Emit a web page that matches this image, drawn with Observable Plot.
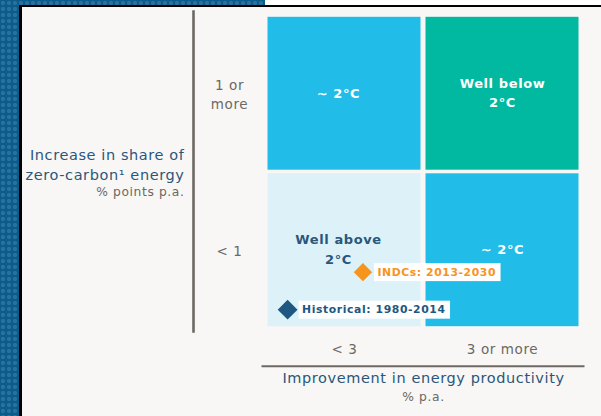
<!DOCTYPE html>
<html><head><meta charset="utf-8">
<script src="https://cdn.jsdelivr.net/npm/d3@7"></script>
<script src="https://cdn.jsdelivr.net/npm/@observablehq/plot@0.6"></script>
<style>
html,body{margin:0;padding:0;background:#fff;}
#wrap{position:relative;width:601px;height:416px;overflow:hidden;background:#f8f7f5}
#chart{position:absolute;left:0;top:0}
.deco{position:absolute;pointer-events:none}
.blue{background-color:#0b5b8b;background-image:radial-gradient(circle,rgba(120,170,205,0.28) 1.8px,transparent 2.4px);background-size:6px 6px}
</style></head><body>
<div id="wrap"><div id="chart"></div>
<div class="deco blue" style="left:0;top:0;width:20px;height:416px"></div>
<div class="deco blue" style="left:0;top:0;width:265px;height:5px"></div>
<div class="deco" style="left:265px;top:0;width:336px;height:5px;background:#fff"></div>
<div class="deco" style="left:19px;top:5px;width:582px;height:2px;background:#000"></div>
<div class="deco" style="left:19px;top:5px;width:3px;height:411px;background:#000"></div>
</div>
<script>
// Band boundaries (schematic scales)
const productivityBreaks = [0, 3, 6];      // improvement in energy productivity, % p.a.
const shareBreaks = [0, 1, 2];             // increase in zero-carbon share, % points p.a.
const productivityTickLabels = ["< 3", "3 or more"];
const shareTickLabels = ["< 1", "1 or\nmore"];

// Cells: column index, row index, outcome
const cellCol = [0, 1, 0, 1];
const cellRow = [1, 1, 0, 0];
const cellOutcome = ["~ 2°C", "Well below\n2°C", "Well above\n2°C", "~ 2°C"];

// Trajectories
const markerNames = ["INDCs: 2013-2030", "Historical: 1980-2014"];
const markerProductivity = [1.85, 0.42];
const markerShare = [0.36, 0.12];

const xTitle = "Improvement in energy productivity";
const xUnit = "% p.a.";
const yTitle = "Increase in share of\nzero-carbon¹ energy";
const yUnit = "% points p.a.";

// Styles
const NAVY = "#2b567c", GRAY = "#6d6864";
const outcomeFill = {"~ 2°C": "#22bce8", "Well below\n2°C": "#00b9a0", "Well above\n2°C": "#ddf1f9"};
const outcomeText = {"~ 2°C": "#ffffff", "Well below\n2°C": "#ffffff", "Well above\n2°C": "#2b567c"};
const markerColor = {"INDCs: 2013-2030": "#f7941d", "Historical: 1980-2014": "#1d5782"};
const markerR = {"INDCs: 2013-2030": 7.3, "Historical: 1980-2014": 7.9};
const FONT = "'DejaVu Sans', sans-serif";

const mid = b => d3.pairs(b).map(([a, c]) => (a + c) / 2);
const xMid = mid(productivityBreaks), yMid = mid(shareBreaks);

const cells = cellOutcome.map((o, i) => ({
  outcome: o, col: cellCol[i],
  x1: productivityBreaks[cellCol[i]], x2: productivityBreaks[cellCol[i] + 1],
  y1: shareBreaks[cellRow[i]], y2: shareBreaks[cellRow[i] + 1]
}));
const markers = markerNames.map((name, i) => ({name, x: markerProductivity[i], y: markerShare[i]}));

const chart = Plot.plot({
  width: 601, height: 416,
  marginLeft: 265, marginRight: 20, marginTop: 15, marginBottom: 88,
  style: {fontFamily: FONT, background: "transparent", overflow: "visible", letterSpacing: "0.6px"},
  x: {domain: [productivityBreaks[0], productivityBreaks.at(-1)]},
  y: {domain: [shareBreaks[0], shareBreaks.at(-1)]},
  color: {type: "identity"},
  marks: [
    Plot.rect(cells, {x1: "x1", x2: "x2", y1: "y1", y2: "y2", fill: d => outcomeFill[d.outcome],
      insetLeft: 2.5, insetRight: 2.5, insetTop: 1.8, insetBottom: 1.8}),
    Plot.text(cells.filter(d => d.col === 0), {x: d => (d.x1 + d.x2) / 2, y: d => (d.y1 + d.y2) / 2, text: "outcome",
      fill: d => outcomeText[d.outcome], fontWeight: "bold", fontSize: 13, lineHeight: 1.5, dx: -6, dy: -2.5}),
    Plot.text(cells.filter(d => d.col === 1), {x: d => (d.x1 + d.x2) / 2, y: d => (d.y1 + d.y2) / 2, text: "outcome",
      fill: d => outcomeText[d.outcome], fontWeight: "bold", fontSize: 13, lineHeight: 1.5, dx: 0, dy: -2.5}),
    ...markers.map(m => Plot.dot([m], {x: "x", y: "y", symbol: "square", rotate: 45, r: markerR[m.name],
      fill: markerColor[m.name], stroke: "none"})),
    ...markers.map(m => Plot.text([m], {x: "x", y: "y", text: "name", textAnchor: "start", dx: 14.5,
      fill: markerColor[m.name], fontWeight: "bold", fontSize: 10.8})),
    Plot.axisX({ticks: xMid, tickFormat: d => productivityTickLabels[xMid.indexOf(d)], tickSize: 0, tickPadding: 16,
      label: null, fill: GRAY, fontSize: 13.5}),
    Plot.axisY({ticks: yMid, tickFormat: d => shareTickLabels[yMid.indexOf(d)], tickSize: 0, tickPadding: 36,
      textAnchor: "middle", lineHeight: 1.35, label: null, fill: GRAY, fontSize: 13.5}),
    Plot.frame({anchor: "left", dx: -72, insetTop: -4, insetBottom: -3, stroke: GRAY, strokeWidth: 2.6}),
    Plot.frame({anchor: "bottom", dy: 37.7, insetLeft: -3, insetRight: -2, stroke: GRAY, strokeWidth: 2}),
    Plot.text([xTitle], {frameAnchor: "bottom", dy: 54, fill: NAVY, fontSize: 14.5}),
    Plot.text([xUnit], {frameAnchor: "bottom", dy: 72, fill: GRAY, fontSize: 12.3}),
    Plot.text([yTitle], {frameAnchor: "left", textAnchor: "end", dx: -81, dy: -8, lineHeight: 1.35, fill: NAVY, fontSize: 14.5}),
    Plot.text([yUnit], {frameAnchor: "left", textAnchor: "end", dx: -81, dy: 20.5, fill: GRAY, fontSize: 12.3})
  ]
});
document.getElementById("chart").append(chart);

// white label boxes behind the trajectory labels (sized from the rendered text)
const svgBox = chart.getBoundingClientRect();
const firstDotG = chart.querySelector('g[aria-label="dot"]');
chart.querySelectorAll("text").forEach(t => {
  if (!markerNames.includes(t.textContent)) return;
  const b = t.getBoundingClientRect();
  const cy = b.top - svgBox.top + b.height / 2;
  const r = document.createElementNS("http://www.w3.org/2000/svg", "rect");
  r.setAttribute("x", b.left - svgBox.left - 3.5);
  r.setAttribute("y", cy - 9);
  r.setAttribute("width", b.width + 8);
  r.setAttribute("height", 18);
  r.setAttribute("fill", "#ffffff");
  firstDotG.parentNode.insertBefore(r, firstDotG);
});
</script>
</body></html>
